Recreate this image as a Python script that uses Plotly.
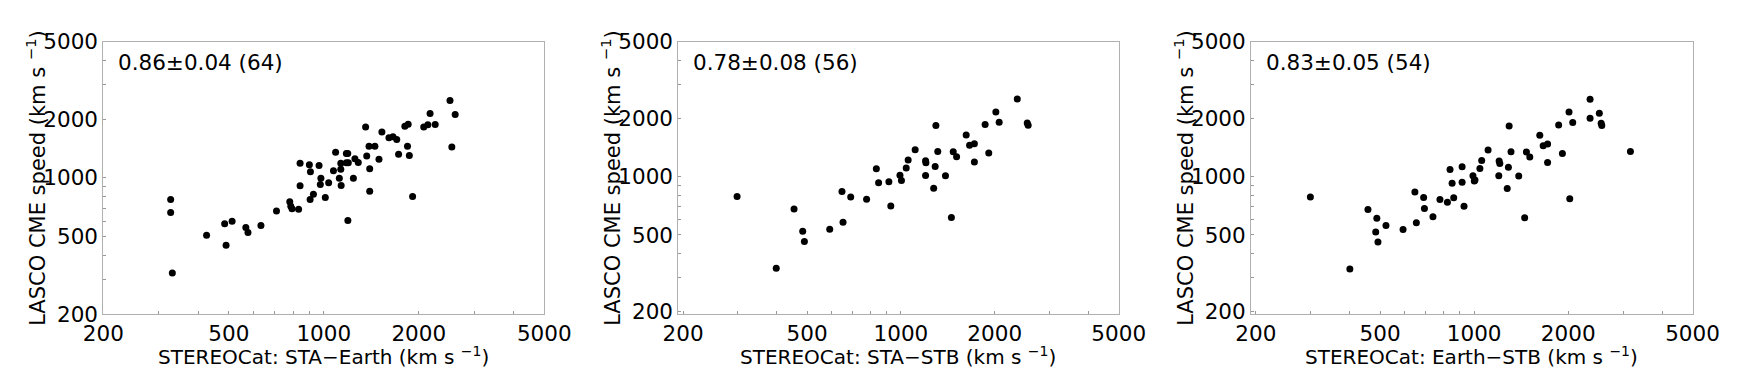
import plotly.graph_objects as go
import math

# ---- data ----
p1_x = [327,327,331,425,485,490,512,566,575,632,708,780,786,793,832,841,841,900,907,905,927,966,979,975,1011,1036,1073,1090,1120,1132,1132,1135,1179,1191,1179,1196,1192,1241,1255,1286,1357,1368,1391,1398,1398,1452,1496,1528,1609,1657,1703,1726,1807,1851,1842,1867,1912,2074,2137,2172,2255,2512,2546,2609]
p1_y = [774,663,325,507,582,451,599,556,524,569,676,753,715,693,690,910,1190,1167,1074,774,824,1157,996,924,793,943,1087,1355,996,1190,1108,913,1334,1334,1195,1195,604,996,1252,1200,1822,1293,1455,1113,854,1455,1247,1717,1606,1626,1574,1323,1843,1887,1455,1303,802,1822,1872,2142,1880,2498,1438,2116]

p2_x = [298,398,454,484,490,591,647,652,690,776,834,848,915,928,993,1004,1040,1055,1111,1200,1200,1203,1274,1288,1295,1313,1390,1452,1472,1509,1620,1661,1721,1721,1863,1914,2017,2067,2363,2544,2561]
p2_y = [791,336,682,522,463,535,839,582,787,766,1100,931,942,707,1020,957,1109,1220,1381,1016,1211,1182,873,1131,1840,1353,1013,615,1348,1270,1646,1454,1483,1192,1862,1327,2166,1914,2530,1899,1847]

p3_x = [299,400,457,488,484,492,522,592,646,653,689,693,738,777,821,837,850,860,915,915,928,991,1001,1006,1043,1057,1108,1199,1202,1208,1276,1287,1294,1312,1389,1451,1470,1507,1622,1663,1718,1718,1864,1916,2012,2023,2068,2350,2350,2516,2550,2562,3164]
p3_y = [787,333,677,610,518,460,559,533,833,579,781,685,622,763,739,1092,927,778,1127,938,704,1012,950,962,1105,1215,1375,1012,1206,1173,870,1122,1832,1348,1010,613,1343,1265,1639,1449,1477,1187,1854,1321,2166,769,1907,2520,2008,2132,1892,1840,1353]

x_titles = ["STEREOCat: STA\u2212Earth (km s <sup>\u22121</sup>)",
            "STEREOCat: STA\u2212STB (km s <sup>\u22121</sup>)",
            "STEREOCat: Earth\u2212STB (km s <sup>\u22121</sup>)"]
y_title = "LASCO CME speed (km s <sup>\u22121</sup>)"
stats = ["0.86\u00b10.04 (64)", "0.78\u00b10.08 (56)", "0.83\u00b10.05 (54)"]

major_ticks = [200, 500, 1000, 2000, 5000]
major_text = ["200", "500", "1000", "2000", "5000"]
minor_ticks = [300, 400, 600, 700, 800, 900, 3000, 4000]

xmins = [200, 193, 193]
ymins = [200, 195, 195]

# ---- layout (page pixels; the page body has an 8px margin) ----
W, H = 1739, 371
OFF = 8
FW, FH = W - 2*OFF, H - OFF

def fx(px):
    return (px - OFF) / FW

def fy(py):
    return 1 - (py - OFF) / FH

x_px = [(103.3, 544.3), (678.3, 1118.7), (1251, 1692.5)]
y_top, y_bot = 41.7, 314
ytitle_cx = [36, 611, 1184]
xtitle_cy = 356

FONT = "DejaVu Sans"
TICK_SIZE = 21.5
fig = go.Figure()
series = [(p1_x, p1_y), (p2_x, p2_y), (p3_x, p3_y)]

for i, (xs, ys) in enumerate(series):
    n = "" if i == 0 else str(i+1)
    fig.add_trace(go.Scatter(x=xs, y=ys, mode="markers",
                             marker=dict(color="black", size=7),
                             xaxis="x"+n, yaxis="y"+n, showlegend=False,
                             hoverinfo="skip"))
    axcommon = dict(type="log", showgrid=False, zeroline=False,
                    showline=True, linecolor="#b0b0b0", linewidth=1, mirror=True,
                    ticks="inside", ticklen=3, tickcolor="#999999", tickwidth=1,
                    tickmode="array", tickvals=major_ticks, ticktext=major_text,
                    minor=dict(tickmode="array", tickvals=minor_ticks,
                               ticks="inside", ticklen=3, tickcolor="#999999",
                               tickwidth=1, showgrid=False),
                    tickfont=dict(family=FONT, size=TICK_SIZE, color="black"),
                    automargin=False)
    fig.update_layout(**{
        "xaxis"+n: dict(axcommon, domain=[fx(x_px[i][0]), fx(x_px[i][1])],
                        range=[math.log10(xmins[i]), math.log10(5000)],
                        anchor="y"+n),
        "yaxis"+n: dict(axcommon, domain=[fy(y_bot), fy(y_top)],
                        range=[math.log10(ymins[i]), math.log10(5000)],
                        anchor="x"+n),
    })
    fig.add_annotation(text=stats[i], xref="x"+n+" domain", yref="y"+n+" domain",
                       x=13/441, y=1-21/272.3, xanchor="left", yanchor="middle",
                       showarrow=False,
                       font=dict(family=FONT, size=TICK_SIZE, color="black"))
    fig.add_annotation(text=y_title, xref="paper", yref="paper",
                       x=fx(ytitle_cx[i]), y=fy((y_top + y_bot) / 2),
                       xanchor="center", yanchor="middle", textangle=-90,
                       showarrow=False,
                       font=dict(family=FONT, size=21, color="black"))
    fig.add_annotation(text=x_titles[i], xref="paper", yref="paper",
                       x=fx((x_px[i][0] + x_px[i][1]) / 2), y=fy(xtitle_cy),
                       xanchor="center", yanchor="middle",
                       showarrow=False,
                       font=dict(family=FONT, size=20, color="black"))

fig.update_layout(width=FW, height=FH, margin=dict(l=0, r=0, t=0, b=0),
                  paper_bgcolor="white", plot_bgcolor="white",
                  font=dict(family=FONT))

fig.write_html("out.html")
